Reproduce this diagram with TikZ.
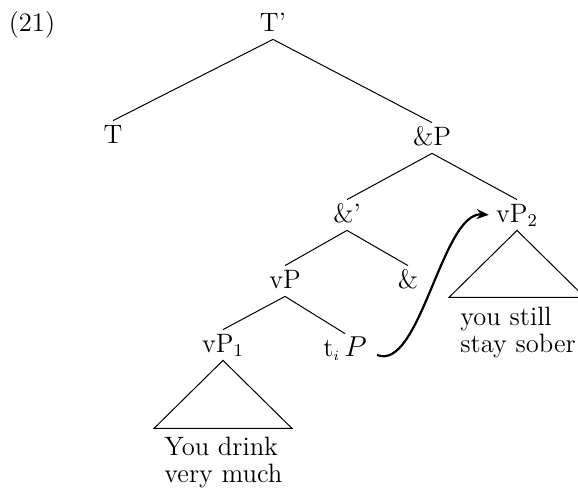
\documentclass[tikz,border=0pt]{standalone}
\usetikzlibrary{arrows.meta}
\begin{document}
\begin{tikzpicture}[
        x=0.5pt, y=-0.5pt,
        every node/.style={font=\fontsize{13.3}{13.5}\selectfont},
        cat/.style={inner sep=2pt, text height=9pt, text depth=2pt},
        yield/.style={inner sep=0pt, align=left, anchor=north west},
        branch/.style={line width=0.5pt},
        move/.style={line width=1.1pt, -{Stealth[length=6pt,width=5pt]}, shorten >=1.5pt}
    ]
    \useasboundingbox (0,0) rectangle (578,493);
    \node[cat] (num) at (32,24) {(21)};
    \node[cat] (Tbar) at (273,24) {T'};
    \node[cat] (T) at (113,136) {T};
    \node[cat] (andP) at (432,138) {\&P};
    \node[cat] (andbar) at (347,215) {\&'};
    \node[cat] (vPtwo) at (517,215) {vP$_2$};
    \node[cat] (vP) at (285,281) {vP};
    \node[cat] (amp) at (408,281) {\&};
    \node[cat] (vPone) at (223,345) {vP$_1$};
    \node[cat] (trace) at (345,349) {t$_{\scriptscriptstyle i}$\,$P$};
    % branches
    \draw[branch] (Tbar.south) -- (T.north);
    \draw[branch] (Tbar.south) -- (andP.north);
    \draw[branch] (andP.south) -- (andbar.north);
    \draw[branch] (andP.south) -- (vPtwo.north);
    \draw[branch] (andbar.south) -- (vP.north);
    \draw[branch] (andbar.south) -- (amp.north);
    \draw[branch] (vP.south) -- (vPone.north);
    \draw[branch] (vP.south) -- (trace.north);
    % triangles
    \draw[branch] (vPone.south) -- +(-69,68) -- +(69,68) -- cycle;
    \draw[branch] (vPtwo.south) -- +(-68,67) -- +(68,67) -- cycle;
    \node[yield] (yone) at (164,437) {You drink\\very much};
    \node[yield] (ytwo) at (460,307) {you still\\stay sober};
    % movement
    \draw[move] ([xshift=3pt,yshift=-3pt]trace.east) .. controls (420,372) and (442,212) .. (vPtwo.west);
\end{tikzpicture}
\end{document}
